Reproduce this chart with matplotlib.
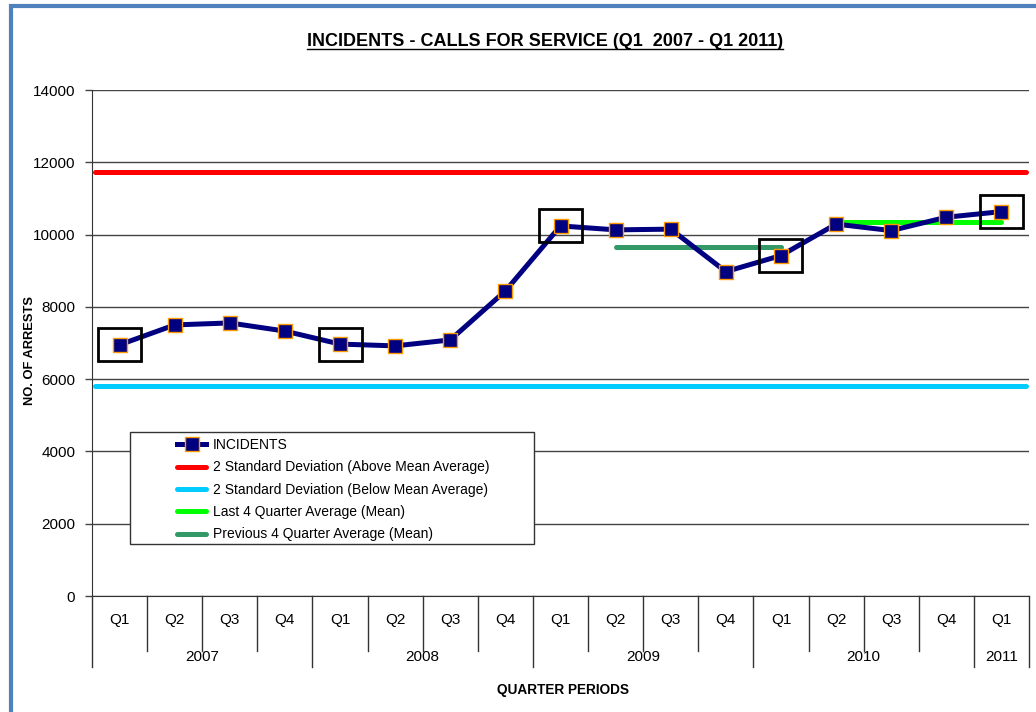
import matplotlib
matplotlib.use('Agg')
import numpy as np
import matplotlib.pyplot as plt
from matplotlib.patches import Rectangle
from matplotlib.lines import Line2D
import matplotlib.transforms as mtrans

matplotlib.rcParams['font.family'] = ['Liberation Sans', 'DejaVu Sans']

# quarterly incidents, Q1 2007 - Q1 2011
quarters = ['Q1', 'Q2', 'Q3', 'Q4', 'Q1', 'Q2', 'Q3', 'Q4', 'Q1', 'Q2', 'Q3', 'Q4',
            'Q1', 'Q2', 'Q3', 'Q4', 'Q1']
years = ['2007', '2008', '2009', '2010', '2011']
year_counts = [4, 4, 4, 4, 1]
incidents = [6950, 7500, 7555, 7330, 6970, 6920, 7085, 8440, 10240, 10130, 10150,
             8975, 9420, 10290, 10110, 10480, 10635]
sd_above = 11730
sd_below = 5810
last4_mean = 10360
last4_span = (13, 16)
prev4_mean = 9655
prev4_span = (9, 12)
highlight = [0, 4, 8, 12, 16]   # Q1 points boxed

fig = plt.figure(figsize=(10.36, 7.12), dpi=100)
ax = fig.add_axes([92/1036, 1-596/712, 937/1036, 506/712])

x = np.arange(len(incidents))
n = len(incidents)

ax.plot([-0.45, n-0.55], [sd_above]*2, color='#FF0000', lw=3.6, solid_capstyle='round',
        label='2 Standard Deviation (Above Mean Average)', zorder=3)
ax.plot([-0.45, n-0.55], [sd_below]*2, color='#00CCFF', lw=3.6, solid_capstyle='round',
        label='2 Standard Deviation (Below Mean Average)', zorder=3)
ax.plot(last4_span, [last4_mean]*2, color='#00FF00', lw=3.6, solid_capstyle='round',
        label='Last 4 Quarter Average (Mean)', zorder=4)
ax.plot(prev4_span, [prev4_mean]*2, color='#339966', lw=3.6, solid_capstyle='round',
        label='Previous 4 Quarter Average (Mean)', zorder=4)
ax.plot(x, incidents, color='#000080', lw=3.6, marker='s', ms=10,
        markerfacecolor='#000080', markeredgecolor='#FF9900', markeredgewidth=1,
        label='INCIDENTS', zorder=5)

for i in highlight:
    ax.add_patch(Rectangle((x[i]-0.39, incidents[i]-456), 0.78, 913, fill=False,
                           edgecolor='black', lw=2, zorder=6))

ax.set_xlim(-0.5, n-0.5)
ax.set_ylim(0, 14000)
ax.set_yticks(np.arange(0, 14001, 2000))
ax.yaxis.grid(True, color='#444444', lw=1)
ax.set_axisbelow(True)
ax.tick_params(axis='y', labelsize=11, length=5, width=1, color='#444444', pad=7)
ax.set_xticks([])
for s in ['top', 'right']:
    ax.spines[s].set_visible(False)
ax.spines['left'].set_color('#333333')
ax.spines['bottom'].set_color('#333333')

# two-level category axis
tr = mtrans.blended_transform_factory(ax.transData, ax.transAxes)
for i, q in enumerate(quarters):
    ax.text(i, -0.047, q, transform=tr, ha='center', va='center', fontsize=11)
bounds = [0]
for c in year_counts:
    bounds.append(bounds[-1] + c)
for b in range(n+1):
    ylow = -0.14 if b in bounds else -0.109
    ax.add_line(Line2D([b-0.5, b-0.5], [0, ylow], transform=tr, color='#333333',
                       lw=1, clip_on=False))
for k, yr in enumerate(years):
    ax.text((bounds[k]+bounds[k+1]-1)/2, -0.121, yr, transform=tr, ha='center',
            va='center', fontsize=11)

fig.text(30/1036, 1-351/712, 'NO. OF ARRESTS', fontsize=9.3, fontweight='bold',
         rotation=90, ha='center', va='center')
fig.text(563/1036, 1-690/712, 'QUARTER PERIODS', fontsize=9.8, fontweight='bold',
         ha='center', va='center')
title = fig.text(545/1036, 1-42/712, 'INCIDENTS - CALLS FOR SERVICE (Q1  2007 - Q1 2011)',
                 fontsize=13, fontweight='bold', ha='center', va='center')

# legend
handles, labels = ax.get_legend_handles_labels()
order = [4, 0, 1, 2, 3]
leg = ax.legend([handles[i] for i in order], [labels[i] for i in order],
                loc='upper left', bbox_to_anchor=((166-92)/937, (596-427)/506),
                frameon=False, fontsize=10, handlelength=2.1, handletextpad=0.5,
                labelspacing=0.6, borderpad=0.3)
ax.add_patch(Rectangle(((130-92)/937, (596-544)/506), 404/937, 112/506,
                       transform=ax.transAxes, fill=True, facecolor='white',
                       edgecolor='#333333', lw=1, zorder=7))
leg.set_zorder(8)

# outer border
fig.add_artist(Rectangle((11/1036, -0.05), 1.1, 1-6/712+0.05, transform=fig.transFigure,
                         fill=False, edgecolor='#4F81BD', lw=3))

fig.canvas.draw()
bb = title.get_window_extent().transformed(fig.transFigure.inverted())
fig.add_artist(Line2D([bb.x0, bb.x1], [bb.y0+0.002, bb.y0+0.002],
                      transform=fig.transFigure, color='black', lw=1))

plt.savefig('out.png', dpi=100)
